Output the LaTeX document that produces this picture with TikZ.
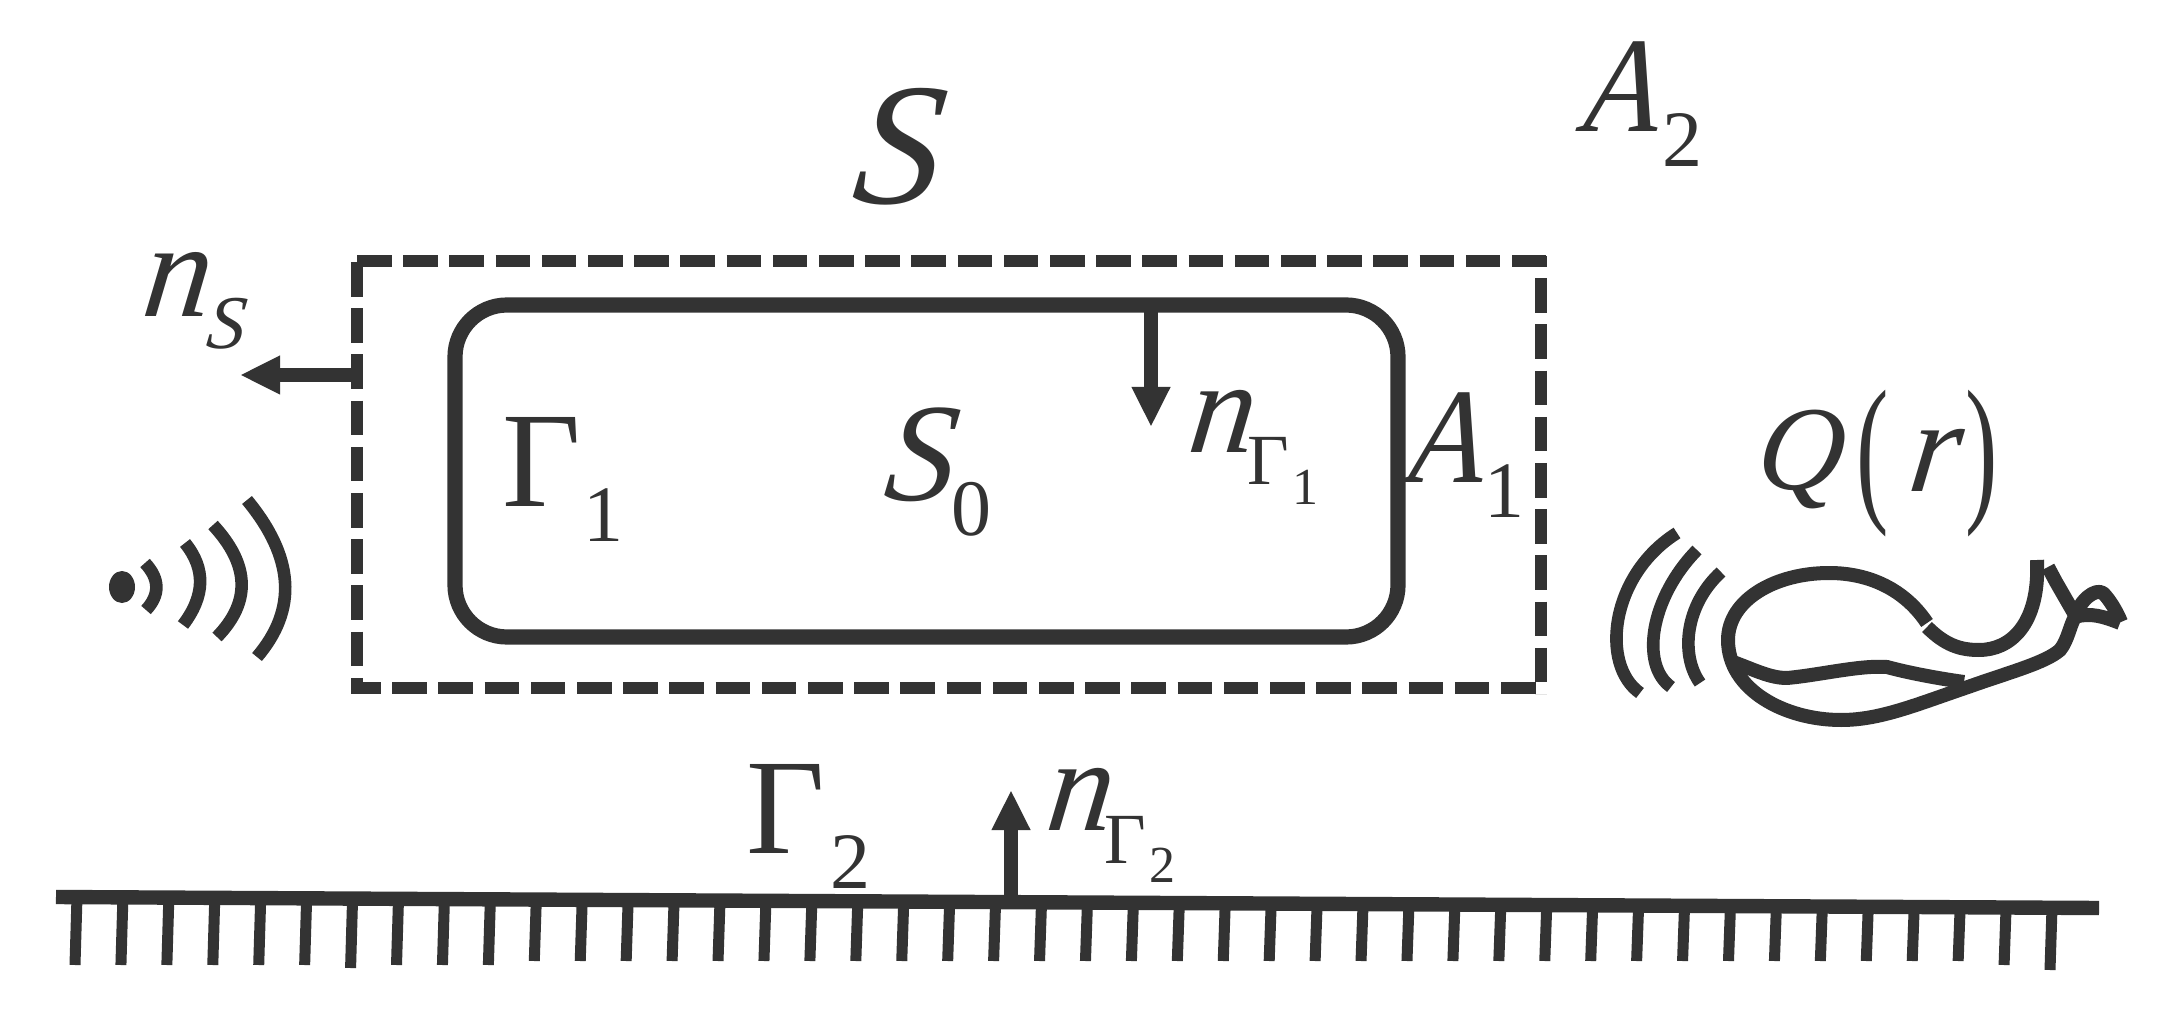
\documentclass[tikz,border=0pt]{standalone}
\usepackage{fontspec}
\usepackage{graphicx}
\setmainfont[ItalicFeatures={FakeSlant=0.12}]{Liberation Serif}
\usetikzlibrary{arrows.meta}
\definecolor{ink}{HTML}{333333}
\tikzset{
  tx/.style={anchor=base west,inner sep=0pt,outer sep=0pt,text=ink},
  big/.style={tx,font=\fontsize{#1}{#1}\selectfont},
  itx/.style={tx,font=\fontsize{#1}{#1}\selectfont\itshape},
  dashline/.style={draw=ink,line width=5.8pt},
  thick line/.style={draw=ink,line width=7.6pt},
  wave/.style={draw=ink,line width=6.3pt},
  whale/.style={draw=ink,line width=7pt,line join=round},
  normal/.style={draw=ink,line width=7pt,-{Triangle[length=20pt,width=18pt,fill=ink]}},
  tick mark/.style={draw=ink,line width=5.5pt},
  ground/.style={draw=ink,line width=7.2pt},
}
\begin{document}
\begin{tikzpicture}[x=0.5pt,y=-0.5pt]
\useasboundingbox (0,0) rectangle (2162,1031);
% dashed boundary S
\coordinate (dtl) at (357,261);
\draw[dashline,dash pattern=on 17.3pt off 5.8pt] (dtl) -- (1546,261);
\draw[dashline,dash pattern=on 17.3pt off 5.8pt] (357,262) -- (357,694);
\draw[dashline,dash pattern=on 17.3pt off 5.8pt,dash phase=3pt] (352,688) -- (1546,688);
\draw[dashline,dash pattern=on 17.3pt off 5.8pt,dash phase=12pt] (1541,256) -- (1541,694);
% rounded box
\node[thick line,rounded corners=26pt,minimum width=471.5pt,minimum height=166pt,inner sep=0pt,outer sep=0pt] (body) at (926.5,471) {};
% normals
\coordinate (nstip) at (240,375);
\draw[normal] (dtl |- nstip) -- (nstip);
\coordinate (ng1tip) at (1151,427);
\draw[normal] (ng1tip |- body.north) -- (ng1tip);
% ground
\coordinate (gl) at (56,897);
\coordinate (gr) at (2099,908);
\draw[ground] (gl) -- (gr);
\foreach \k in {0,...,43}{
  \pgfmathsetmacro{\xx}{75+45.93*\k}
  \pgfmathsetmacro{\yy}{897+(\xx-56)*0.00538}
  \pgfmathsetmacro{\bb}{\k==6?968:(\k==43?970:(\k==42?965:(\k<10?965:961)))}
  \draw[tick mark] (\xx+2,\yy) -- (\xx,\bb);
}
\coordinate (ng2tip) at (1011,790);
\draw[normal] (ng2tip |- gl) ++(0,5) -- (ng2tip);
% source waves
\fill[ink] (122,587) ellipse [x radius=13,y radius=16];
\draw[wave] (145,563) .. controls (160,579) and (160,595) .. (146,610);
\draw[wave] (185,543) .. controls (206,569) and (205,596) .. (183,625);
\draw[wave] (213,525) .. controls (250,565) and (251,602) .. (217,637);
\draw[wave] (247,500) .. controls (294,557) and (298,609) .. (257,657);
% whale waves
\draw[wave] (1677,533) .. controls (1610,575) and (1600,665) .. (1640,693);
\draw[wave] (1697,550) .. controls (1650,598) and (1640,665) .. (1671,687);
\draw[wave] (1721,572) .. controls (1685,605) and (1680,655) .. (1700,683);
% whale
\draw[whale] (1927,623) .. controls (1905,590) and (1870,573) .. (1829,573)
  .. controls (1775,573) and (1728,600) .. (1728,640)
  .. controls (1728,690) and (1785,720) .. (1841,720)
  .. controls (1880,720) and (1915,705) .. (1968,687)
  .. controls (2010,672) and (2045,663) .. (2060,650)
  .. controls (2068,640) and (2070,625) .. (2075,617)
  .. controls (2080,600) and (2095,588) .. (2103,593)
  .. controls (2110,600) and (2117,612) .. (2121,622);
\draw[whale] (2075,617) .. controls (2090,612) and (2105,617) .. (2120,623);
\draw[whale] (2048,567) -- (2056,582) -- (2075,615);
\draw[whale] (1927,627) .. controls (1945,645) and (1960,650) .. (1979,650)
  .. controls (2010,650) and (2040,625) .. (2037,560);
\draw[whale] (1733,662) .. controls (1755,670) and (1770,678) .. (1787,678)
  .. controls (1820,675) and (1860,665) .. (1887,667)
  .. controls (1905,672) and (1935,678) .. (1964,682);
% labels
\node[itx=87pt] (lS) at (850,204) {S};
\node[itx=68pt] (lA2n) at (1582,132) {\scalebox{.9}[1]{A}};
\node[big=40pt] (lA2s) at (1662,167) {2};
\node[itx=68pt] (lnS) at (140,317) {n};
\node[itx=38pt] (lnSs) at (205,349) {S};
\node[big=68pt] (lG1) at (502,507) {Γ};
\node[big=40pt] (lG1s) at (583,542) {1};
\node[itx=70pt] (lS0) at (882,501) {S};
\node[big=40pt] (lS0s) at (951,536) {0};
\node[itx=66pt] (lnG1) at (1186,453) {n};
\node[big=36pt] (lnG1g) at (1247,485) {Γ};
\node[big=26pt] (lnG1s) at (1292,505) {1};
\node[itx=68pt] (lA1) at (1407,483) {\scalebox{.9}[1]{A}};
\node[big=40pt] (lA1s) at (1484,518) {1};
\node[itx=60pt] (lQ) at (1754,490) {Q};
\node[big=81pt] (lQl) at (1856,503) {\scalebox{.6}[1]{(}};
\node[itx=66pt] (lQr) at (1906,492) {r};
\node[big=81pt] (lQc) at (1965,503) {\scalebox{.6}[1]{)}};
\node[big=68pt] (lG2) at (746,853) {Γ};
\node[big=40pt] (lG2s) at (830,888) {2};
\node[itx=66pt] (lnG2) at (1044,830) {n};
\node[big=36pt] (lnG2g) at (1104,863) {Γ};
\node[big=26pt] (lnG2s) at (1149,882) {2};
\end{tikzpicture}
\end{document}
